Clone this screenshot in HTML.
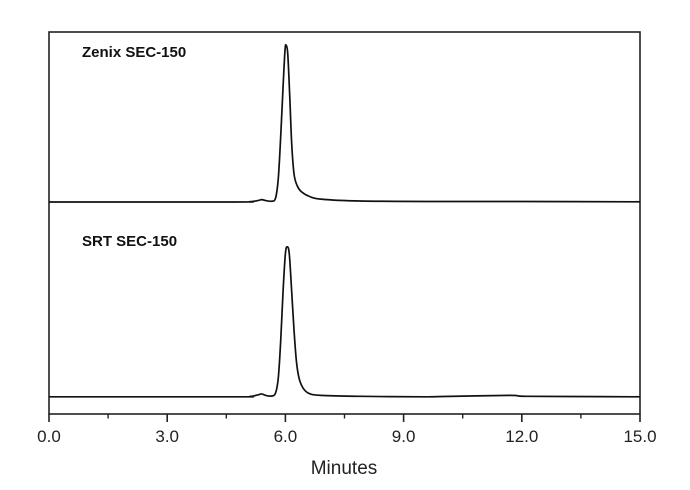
<!DOCTYPE html>
<html><head><meta charset="utf-8"><style>
html,body{margin:0;padding:0;background:#fff;}
svg{display:block;font-family:"Liberation Sans",Arial,sans-serif;}
</style></head><body>
<svg id="chart" width="690" height="490" viewBox="0 0 690 490">
<rect x="49" y="32" width="591" height="382" fill="none" stroke="#222" stroke-width="1.6"/>
<g id="xaxis"></g>
<g id="series"></g>
<text x="82" y="57" font-size="15" font-weight="bold" fill="#111">Zenix SEC-150</text>
<text x="82" y="246" font-size="15" font-weight="bold" fill="#111">SRT SEC-150</text>
<text x="344" y="474" font-size="19" text-anchor="middle" fill="#222">Minutes</text>
</svg>
<script>
const xTickValues=[0,3,6,9,12,15];
const xTickLabels=["0.0","3.0","6.0","9.0","12.0","15.0"];
const minorTicks=[1.5,4.5,7.5,10.5,13.5];
const zenixTime=[0,4.7,5.1,5.3,5.4,5.5,5.65,5.75,5.82,5.88,5.94,5.99,6.02,6.06,6.11,6.16,6.22,6.3,6.4,6.6,6.9,7.9,10,12,15];
const zenixSignal=[222,222,222.3,223.5,224.5,223.5,222.8,226,247,290,342,381,386,377,333,283,251,239,233,228,225,223,222.5,222.5,222.2];
const srtTime=[0,4.7,5.1,5.3,5.4,5.5,5.65,5.75,5.82,5.88,5.94,6.0,6.05,6.1,6.16,6.22,6.28,6.35,6.45,6.6,6.9,7.9,9.5,10,11.7,12.1,14,15];
const srtSignal=[18,18,18.3,20,21,19.5,18.8,22,38,76,128,168,175,167,128,87,55,37,27,21.5,19.5,18.5,18,18.3,19.5,18.5,18.2,18];
const NS="http://www.w3.org/2000/svg";
function xs(t){return 49+t*(591/15);}
function ys(v){return 414-v*(382/400);}
const ax=document.getElementById('xaxis');
xTickValues.forEach((v,i)=>{
  const l=document.createElementNS(NS,'line');
  l.setAttribute('x1',xs(v));l.setAttribute('x2',xs(v));l.setAttribute('y1',414);l.setAttribute('y2',422);
  l.setAttribute('stroke','#222');l.setAttribute('stroke-width','1.6');
  
  
  ax.appendChild(l);
  const t=document.createElementNS(NS,'text');
  t.setAttribute('x',xs(v));t.setAttribute('y',442);t.setAttribute('font-size','17');
  t.setAttribute('text-anchor','middle');t.setAttribute('fill','#222');
  t.textContent=xTickLabels[i];
  
  
  ax.appendChild(t);
});
minorTicks.forEach(v=>{
  const l=document.createElementNS(NS,'line');
  l.setAttribute('x1',xs(v));l.setAttribute('x2',xs(v));l.setAttribute('y1',414);l.setAttribute('y2',418.5);
  l.setAttribute('stroke','#222');l.setAttribute('stroke-width','1.4');
  
  
  ax.appendChild(l);
});
const sg=document.getElementById('series');
function draw(ts,vs,name){
  const P=ts.map((t,i)=>[xs(t),ys(vs[i])]);
  let d='M'+P[0][0].toFixed(2)+' '+P[0][1].toFixed(2);
  for(let i=0;i<P.length-1;i++){
    const p0=P[Math.max(i-1,0)],p1=P[i],p2=P[i+1],p3=P[Math.min(i+2,P.length-1)];
    const c1=[p1[0]+(p2[0]-p0[0])/6,p1[1]+(p2[1]-p0[1])/6];
    const c2=[p2[0]-(p3[0]-p1[0])/6,p2[1]-(p3[1]-p1[1])/6];
    d+=' C'+c1[0].toFixed(2)+' '+c1[1].toFixed(2)+' '+c2[0].toFixed(2)+' '+c2[1].toFixed(2)+' '+p2[0].toFixed(2)+' '+p2[1].toFixed(2);
  }
  const p=document.createElementNS(NS,'path');
  p.setAttribute('d',d);
  p.setAttribute('fill','none');p.setAttribute('stroke','#111');p.setAttribute('stroke-width','1.7');
  p.setAttribute('stroke-linejoin','round');
  
  
  sg.appendChild(p);
}
draw(zenixTime,zenixSignal,'zenix-trace');
draw(srtTime,srtSignal,'srt-trace');
</script>
</body></html>
